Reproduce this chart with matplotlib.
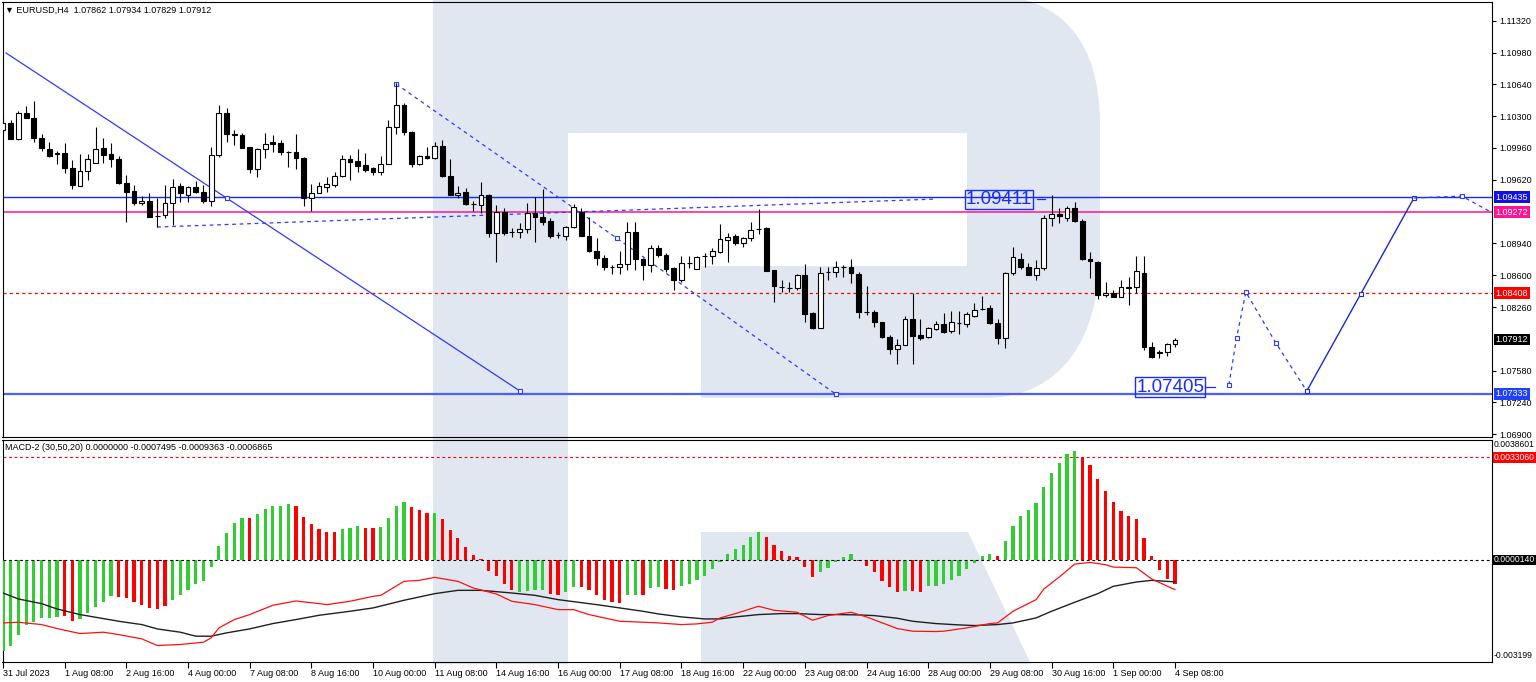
import matplotlib
matplotlib.use("Agg")
import matplotlib.pyplot as plt
import matplotlib.transforms as mtransforms
from matplotlib.path import Path
from matplotlib.patches import PathPatch, Polygon
import numpy as np

plt.rcParams['font.family'] = ['Liberation Sans', 'DejaVu Sans']

# EURUSD H4 candles, 31 Jul 2023 00:00 .. 4 Sep 2023 08:00
opens = [
    1.10152, 1.10227, 1.10055, 1.10333, 1.10280, 1.10066, 1.09949, 1.09895, 1.09906, 1.09746,
    1.09553, 1.09713, 1.09799, 1.09959, 1.09895, 1.09842, 1.09585, 1.09500, 1.09371, 1.09393,
    1.09232, 1.09243, 1.09371, 1.09553, 1.09457, 1.09542, 1.09489, 1.09393, 1.09884, 1.10333,
    1.10109, 1.10098, 1.09970, 1.09735, 1.09949, 1.10023, 1.10013, 1.09917, 1.09917, 1.09852,
    1.09425, 1.09478, 1.09542, 1.09564, 1.09660, 1.09842, 1.09820, 1.09778, 1.09746, 1.09703,
    1.09788, 1.10184, 1.10419, 1.10130, 1.09788, 1.09874, 1.09852, 1.09981, 1.09660, 1.09457,
    1.09489, 1.09361, 1.09350, 1.09457, 1.09051, 1.09275, 1.09062, 1.09062, 1.09094, 1.09264,
    1.09222, 1.09179, 1.09030, 1.09019, 1.09115, 1.09275, 1.09019, 1.08859, 1.08784, 1.08688,
    1.08688, 1.08720, 1.09062, 1.08773, 1.08709, 1.08890, 1.08816, 1.08677, 1.08548, 1.08730,
    1.08666, 1.08805, 1.08805, 1.08848, 1.08976, 1.09019, 1.08944, 1.08998, 1.09094, 1.09104,
    1.08655, 1.08473, 1.08462, 1.08462, 1.08602, 1.08196, 1.08035, 1.08634, 1.08634, 1.08688,
    1.08688, 1.08613, 1.08207, 1.08207, 1.08099, 1.07939, 1.07811, 1.07853, 1.08132, 1.07961,
    1.07939, 1.08025, 1.08078, 1.08003, 1.08089, 1.08078, 1.08164, 1.08238, 1.08249, 1.08089,
    1.07929, 1.08623, 1.08773, 1.08688, 1.08602, 1.08677, 1.09211, 1.09254, 1.09211, 1.09318,
    1.09179, 1.08773, 1.08741, 1.08388, 1.08409, 1.08367, 1.08462, 1.08473, 1.08623, 1.07832,
    1.07768, 1.07779, 1.07862]
highs = [
    1.10280, 1.10259, 1.10355, 1.10408, 1.10462, 1.10109, 1.10023, 1.09927, 1.10013, 1.09831,
    1.09895, 1.09895, 1.10184, 1.10066, 1.10013, 1.09874, 1.09671, 1.09564, 1.09446, 1.09478,
    1.09425, 1.09564, 1.09628, 1.09585, 1.09553, 1.09607, 1.09564, 1.09970, 1.10419, 1.10387,
    1.10152, 1.10120, 1.09970, 1.09959, 1.10120, 1.10098, 1.10045, 1.09927, 1.10109, 1.09863,
    1.09575, 1.09596, 1.09649, 1.09703, 1.09884, 1.09884, 1.09949, 1.09906, 1.09756, 1.09874,
    1.10259, 1.10654, 1.10441, 1.10141, 1.09884, 1.09970, 1.10023, 1.10045, 1.09842, 1.09553,
    1.09532, 1.09393, 1.09596, 1.09468, 1.09350, 1.09318, 1.09104, 1.09158, 1.09371, 1.09436,
    1.09521, 1.09211, 1.09062, 1.09126, 1.09361, 1.09318, 1.09222, 1.08998, 1.08816, 1.08709,
    1.08859, 1.09168, 1.09168, 1.08784, 1.08923, 1.08923, 1.08837, 1.08688, 1.08805, 1.08805,
    1.08805, 1.08837, 1.08890, 1.09147, 1.09051, 1.09040, 1.09008, 1.09168, 1.09307, 1.09115,
    1.08655, 1.08548, 1.08527, 1.08613, 1.08720, 1.08207, 1.08688, 1.08688, 1.08752, 1.08709,
    1.08773, 1.08634, 1.08484, 1.08228, 1.08099, 1.07961, 1.07918, 1.08164, 1.08409, 1.08132,
    1.08046, 1.08110, 1.08196, 1.08217, 1.08217, 1.08207, 1.08302, 1.08377, 1.08281, 1.08132,
    1.08634, 1.08901, 1.08837, 1.08730, 1.08762, 1.09243, 1.09457, 1.09318, 1.09339, 1.09382,
    1.09200, 1.08848, 1.08752, 1.08527, 1.08441, 1.08548, 1.08581, 1.08805, 1.08805, 1.07886,
    1.07800, 1.07875, 1.07934]
lows = [
    1.10120, 1.10055, 1.10045, 1.10280, 1.10023, 1.09927, 1.09863, 1.09788, 1.09692, 1.09521,
    1.09553, 1.09617, 1.09799, 1.09799, 1.09756, 1.09575, 1.09168, 1.09350, 1.09350, 1.09222,
    1.09115, 1.09211, 1.09136, 1.09382, 1.09382, 1.09478, 1.09371, 1.09339, 1.09863, 1.10023,
    1.09991, 1.09959, 1.09692, 1.09649, 1.09852, 1.09917, 1.09884, 1.09756, 1.09735, 1.09339,
    1.09286, 1.09478, 1.09489, 1.09542, 1.09649, 1.09617, 1.09703, 1.09703, 1.09671, 1.09671,
    1.09788, 1.10109, 1.10098, 1.09756, 1.09778, 1.09842, 1.09842, 1.09649, 1.09457, 1.09425,
    1.09350, 1.09286, 1.09264, 1.09008, 1.08741, 1.09030, 1.09008, 1.08998, 1.09051, 1.08955,
    1.09136, 1.08998, 1.08998, 1.08976, 1.09104, 1.09019, 1.08848, 1.08709, 1.08655, 1.08613,
    1.08613, 1.08655, 1.08655, 1.08548, 1.08634, 1.08794, 1.08634, 1.08441, 1.08527, 1.08677,
    1.08666, 1.08688, 1.08720, 1.08837, 1.08741, 1.08923, 1.08901, 1.08965, 1.09040, 1.08645,
    1.08313, 1.08419, 1.08419, 1.08441, 1.08099, 1.08025, 1.08035, 1.08548, 1.08581, 1.08581,
    1.08516, 1.08142, 1.08174, 1.08046, 1.07929, 1.07758, 1.07651, 1.07853, 1.07651, 1.07907,
    1.07929, 1.08014, 1.07982, 1.07982, 1.07971, 1.08046, 1.08153, 1.08228, 1.08078, 1.07864,
    1.07822, 1.08602, 1.08666, 1.08602, 1.08548, 1.08655, 1.09126, 1.09158, 1.09179, 1.09168,
    1.08762, 1.08570, 1.08345, 1.08367, 1.08367, 1.08367, 1.08281, 1.08409, 1.07800, 1.07715,
    1.07715, 1.07736, 1.07829]
closes = [
    1.10227, 1.10055, 1.10333, 1.10280, 1.10066, 1.09959, 1.09874, 1.09906, 1.09746, 1.09564,
    1.09713, 1.09842, 1.09949, 1.09884, 1.09842, 1.09585, 1.09489, 1.09371, 1.09393, 1.09222,
    1.09236, 1.09371, 1.09542, 1.09478, 1.09542, 1.09489, 1.09393, 1.09884, 1.10333, 1.10109,
    1.10098, 1.09959, 1.09735, 1.09949, 1.10002, 1.10002, 1.09917, 1.09915, 1.09852, 1.09425,
    1.09478, 1.09553, 1.09575, 1.09660, 1.09842, 1.09810, 1.09767, 1.09724, 1.09703, 1.09788,
    1.10184, 1.10419, 1.10130, 1.09788, 1.09874, 1.09852, 1.09981, 1.09660, 1.09457, 1.09478,
    1.09361, 1.09365, 1.09457, 1.09051, 1.09275, 1.09051, 1.09066, 1.09094, 1.09264, 1.09222,
    1.09168, 1.09019, 1.09034, 1.09115, 1.09329, 1.09019, 1.08859, 1.08784, 1.08688, 1.08692,
    1.08720, 1.09062, 1.08773, 1.08709, 1.08890, 1.08816, 1.08666, 1.08548, 1.08730, 1.08734,
    1.08794, 1.08809, 1.08859, 1.08987, 1.09008, 1.08944, 1.08998, 1.09083, 1.09090, 1.08645,
    1.08484, 1.08477, 1.08466, 1.08602, 1.08185, 1.08035, 1.08623, 1.08638, 1.08688, 1.08692,
    1.08623, 1.08207, 1.08211, 1.08099, 1.07939, 1.07811, 1.07853, 1.08132, 1.07950, 1.07929,
    1.08035, 1.08078, 1.07993, 1.08099, 1.08093, 1.08185, 1.08228, 1.08242, 1.08089, 1.07929,
    1.08623, 1.08794, 1.08688, 1.08602, 1.08677, 1.09211, 1.09254, 1.09232, 1.09318, 1.09179,
    1.08773, 1.08752, 1.08388, 1.08409, 1.08367, 1.08473, 1.08473, 1.08645, 1.07832, 1.07726,
    1.07779, 1.07864, 1.07912]

# MACD-2 histogram and its bar colours (g = green, r = red)
hist = [
    -0.00291, -0.00275, -0.00238, -0.00208, -0.00197, -0.00186, -0.00184, -0.00181, -0.00179, -0.00193,
    -0.00187, -0.00170, -0.00149, -0.00133, -0.00115, -0.00117, -0.00120, -0.00134, -0.00142, -0.00152,
    -0.00156, -0.00147, -0.00128, -0.00112, -0.00094, -0.00076, -0.00065, -0.00022, 0.00047, 0.00087,
    0.00121, 0.00137, 0.00137, 0.00149, 0.00165, 0.00176, 0.00176, 0.00180, 0.00175, 0.00138,
    0.00117, 0.00101, 0.00091, 0.00091, 0.00100, 0.00105, 0.00109, 0.00105, 0.00105, 0.00107,
    0.00137, 0.00176, 0.00186, 0.00170, 0.00162, 0.00153, 0.00151, 0.00132, 0.00098, 0.00071,
    0.00043, 0.00018, 0.00005, -0.00035, -0.00051, -0.00076, -0.00094, -0.00101, -0.00099, -0.00096,
    -0.00096, -0.00107, -0.00110, -0.00102, -0.00085, -0.00086, -0.00094, -0.00112, -0.00126, -0.00134,
    -0.00136, -0.00112, -0.00112, -0.00112, -0.00088, -0.00086, -0.00092, -0.00094, -0.00083, -0.00075,
    -0.00064, -0.00049, -0.00028, -0.00006, 0.00020, 0.00036, 0.00050, 0.00074, 0.00091, 0.00074,
    0.00050, 0.00029, 0.00015, 0.00011, -0.00021, -0.00053, -0.00037, -0.00025, -0.00006, 0.00011,
    0.00020, -0.00003, -0.00019, -0.00037, -0.00067, -0.00086, -0.00102, -0.00099, -0.00099, -0.00102,
    -0.00083, -0.00083, -0.00075, -0.00064, -0.00051, -0.00028, -0.00009, 0.00013, 0.00020, 0.00013,
    0.00061, 0.00109, 0.00143, 0.00162, 0.00183, 0.00234, 0.00279, 0.00311, 0.00340, 0.00352,
    0.00330, 0.00306, 0.00260, 0.00221, 0.00186, 0.00160, 0.00143, 0.00132, 0.00071, 0.00013,
    -0.00032, -0.00060, -0.00075]
hist_colors = ("gggggggg" "rr" "ggggg" "rrrrrrr" "gggggggggg" "r" "ggggg" "rrrrrr" "ggg" "rr"
               "gggg" "rrr" "g" "rrrrrrrrrr" "gggg" "rr" "gg" "rrrrrr" "gg" "r" "gg" "rr"
               "ggggggggggg" "rrrrrrr" "ggggg" "rrrrrr" "g" "rr" "ggggggggg" "r" "gggggggggg"
               "rrrrrrrrrrrrr")

black_idx = [0, 2, 5, 7, 10, 13, 15, 18, 20, 23, 25, 27, 29, 32, 35, 38, 41, 45, 48, 52, 56, 59, 62,
             66, 69, 72, 77, 80, 83, 85, 88, 91, 93, 95, 98, 101, 103, 106, 108, 111, 113, 116, 118,
             121, 124, 126, 129, 131, 134, 136, 139, 142, 144, 147, 149, 152]
black_val = [-0.001044, -0.001236, -0.001385, -0.001555, -0.001736, -0.001864, -0.001950, -0.002056,
             -0.002195, -0.002301, -0.002429, -0.002429, -0.002322, -0.002195, -0.002024, -0.001896,
             -0.001758, -0.001630, -0.001523, -0.001278, -0.001065, -0.000959, -0.000959, -0.001044,
             -0.001119, -0.001257, -0.001417, -0.001523, -0.001630, -0.001715, -0.001811, -0.001875,
             -0.001875, -0.001811, -0.001736, -0.001704, -0.001704, -0.001736, -0.001736, -0.001747,
             -0.001768, -0.001854, -0.001950, -0.002024, -0.002067, -0.002088, -0.002056, -0.002003,
             -0.001843, -0.001630, -0.001342, -0.001065, -0.000831, -0.000692, -0.000639, -0.000687]
red_idx = [0, 2, 5, 7, 10, 13, 15, 18, 20, 23, 26, 27, 28, 30, 32, 35, 38, 41, 42, 45, 48, 49, 52, 54,
           56, 59, 61, 64, 66, 69, 72, 74, 76, 80, 83, 85, 88, 90, 92, 93, 95, 98, 100, 103, 105, 107,
           110, 112, 116, 118, 121, 122, 125, 128, 129, 131, 134, 135, 137, 139, 141, 143, 144, 147,
           149, 152]
red_val = [-0.002003, -0.001981, -0.002056, -0.002184, -0.002344, -0.002301, -0.002376, -0.002514,
           -0.002727, -0.002695, -0.002621, -0.002482, -0.002163, -0.001896, -0.001736, -0.001438,
           -0.001300, -0.001385, -0.001417, -0.001310, -0.001151, -0.001119, -0.000671, -0.000639,
           -0.000543, -0.000671, -0.000884, -0.001076, -0.001310, -0.001417, -0.001577, -0.001577,
           -0.001736, -0.001950, -0.001981, -0.002003, -0.002056, -0.002035, -0.001981, -0.001843,
           -0.001704, -0.001470, -0.001598, -0.001662, -0.001918, -0.001768, -0.001662, -0.001811,
           -0.002184, -0.002269, -0.002280, -0.002269, -0.002163, -0.002024, -0.002003, -0.001630,
           -0.001257, -0.000916, -0.000533, -0.000117, -0.000064, -0.000138, -0.000213, -0.000234,
           -0.000597, -0.000936]

date_pos = list(range(0, 153, 8))
date_labels = ["31 Jul 2023", "1 Aug 08:00", "2 Aug 16:00", "4 Aug 00:00", "7 Aug 08:00",
               "8 Aug 16:00", "10 Aug 00:00", "11 Aug 08:00", "14 Aug 16:00", "16 Aug 00:00",
               "17 Aug 08:00", "18 Aug 16:00", "22 Aug 00:00", "23 Aug 08:00", "24 Aug 16:00",
               "28 Aug 00:00", "29 Aug 08:00", "30 Aug 16:00", "1 Sep 00:00", "4 Sep 08:00"]
price_ticks = [1.11320, 1.10980, 1.10640, 1.10300, 1.09960, 1.09620, 1.08940, 1.08600,
               1.08260, 1.07580, 1.07240, 1.06900]

# horizontal levels and drawn objects (bar index, price)
lvl_res, lvl_pink, lvl_pivot, lvl_sup, last_price = 1.09435, 1.09272, 1.08408, 1.07333, 1.07912
trend_x, trend_y = [0.4, 67.1], [1.10975, 1.07360]
trend_mx, trend_my = [29.05, 67.1], [1.09430, 1.07360]
fall_x, fall_y = [51.0, 79.6, 108.0], [1.10643, 1.08997, 1.07330]
flat_x, flat_y = [20.0, 120.9], [1.09115, 1.09414]
fc1_x, fc1_y = [159.0, 160.0, 161.2, 165.1, 169.1], [1.07427, 1.07929, 1.08420, 1.07875, 1.07362]
fc2_x, fc2_y = [169.1, 176.1, 183.0], [1.07362, 1.08399, 1.09425]
fc3_x, fc3_y = [183.0, 189.2, 193.0], [1.09425, 1.09446, 1.09275]
macd_lvl_hi, macd_lvl_zero = 0.0033060, 0.0000140

W, H = 1536, 682
fig = plt.figure(figsize=(W / 100, H / 100), dpi=100)


def rect(x0, y0, x1, y1):
    return [x0 / W, 1 - y1 / H, (x1 - x0) / W, (y1 - y0) / H]


# watermark logo behind both panels
bg = fig.add_axes([0, 0, 1, 1], zorder=0)
bg.set_xlim(0, W)
bg.set_ylim(H, 0)
bg.axis('off')
wm = '#e0e7f0'
verts = [(433, -5), (985, -5), (1065, -5), (1100, 45), (1100, 125), (1100, 250),
         (1100, 340), (1060, 398), (985, 398), (701, 398), (701, 266), (967, 266),
         (967, 133), (568, 133), (568, 664), (433, 664), (433, -5)]
codes = [Path.MOVETO, Path.LINETO, Path.CURVE4, Path.CURVE4, Path.CURVE4, Path.LINETO,
         Path.CURVE4, Path.CURVE4, Path.CURVE4, Path.LINETO, Path.LINETO, Path.LINETO,
         Path.LINETO, Path.LINETO, Path.LINETO, Path.LINETO, Path.CLOSEPOLY]
bg.add_patch(PathPatch(Path(verts, codes), fc=wm, ec='none'))
bg.add_patch(Polygon([(701, 532), (968, 532), (1031, 664), (701, 664)], fc=wm, ec='none'))

ax = fig.add_axes(rect(2.5, 2, 1492, 437), zorder=1)
mx = fig.add_axes(rect(2.5, 440, 1492, 662), zorder=1, sharex=ax)
for a in (ax, mx):
    a.set_facecolor('none')
    for s in a.spines.values():
        s.set_linewidth(0.8)
        s.set_color('black')

ax.set_xlim(-0.065, 193.13)
ax.set_ylim(1.06871, 1.11520)
mx.set_ylim(-0.003256, 0.0038601)

# candles
idx = np.arange(len(closes))
o, h, l, c = map(np.array, (opens, highs, lows, closes))
up = c >= o
lo = np.minimum(o, c)
bh = np.abs(c - o)
ax.vlines(idx, l, h, color='black', lw=0.8, zorder=3)
ax.bar(idx[up], bh[up], bottom=lo[up], width=0.62, color='white', edgecolor='black', lw=0.8, zorder=4)
ax.bar(idx[~up], bh[~up], bottom=lo[~up], width=0.62, color='black', edgecolor='black', lw=0.8, zorder=4)

# levels
dot = (0, (2.5, 2.5))
ax.axhline(lvl_res, color='#1428ff', lw=1.0, zorder=2)
ax.axhline(lvl_pink, color='#ff1493', lw=1.1, zorder=2)
ax.axhline(lvl_pivot, color='#ff0000', lw=0.9, ls=dot, zorder=2)
ax.axhline(lvl_sup, color='#4a60ff', lw=1.6, zorder=2)

blue = '#2a3cff'
ax.plot(trend_x, trend_y, color=blue, lw=0.9, zorder=2)
ax.plot(trend_mx, trend_my, ls='none', marker='s', ms=3.5, mfc='white', mec=blue, mew=0.8, zorder=5)
ax.plot(fall_x, fall_y, color=blue, lw=0.9, ls=(0, (3, 3)), marker='s', ms=3.5, mfc='white',
        mec=blue, mew=0.8, zorder=2)
ax.plot(flat_x, flat_y, color=blue, lw=0.9, ls=(0, (3, 3)), zorder=2)
ax.plot(fc1_x, fc1_y, color=blue, lw=0.9, ls=(0, (3, 3)), marker='s', ms=3.5, mfc='white',
        mec=blue, mew=0.8, zorder=5)
ax.plot(fc2_x, fc2_y, color='#1a2ad0', lw=1.0, marker='s', ms=3.5, mfc='white',
        mec='#1a2ad0', mew=0.8, zorder=5)
ax.plot(fc3_x, fc3_y, color=blue, lw=0.9, ls=(0, (3, 3)), zorder=5)
ax.plot(fc3_x[1:2], fc3_y[1:2], ls='none', marker='s', ms=3.5, mfc='white', mec=blue, mew=0.8, zorder=5)

# big price labels
for x0, x1, xt, val in [(134.1, 135.2, 124.9, 1.09411), (156.0, 157.2, 147.0, 1.07405)]:
    ax.plot([x0, x1], [val, val], color='#1a2cff', lw=0.9, zorder=5)
    ax.text(xt, val, f"{val:.5f}", color='#1a2cff', fontsize=13.5, va='center', ha='left', zorder=6,
            bbox=dict(boxstyle='square,pad=0.06', fc='none', ec='#1a2cff', lw=1.0))

# right price axis
ax.yaxis.tick_right()
ax.set_yticks(price_ticks)
ax.set_yticklabels([f"{v:.5f}" for v in price_ticks])
ax.tick_params(axis='y', length=3, width=0.8, pad=2, labelsize=6.5, direction='out')
ax.tick_params(axis='x', bottom=False, labelbottom=False)

tr_main = mtransforms.blended_transform_factory(ax.transAxes, ax.transData)
for val, col in [(lvl_res, '#1010e8'), (lvl_pink, '#ff1493'), (lvl_pivot, '#ff0000'),
                 (last_price, '#000000'), (lvl_sup, '#2040ff')]:
    ax.text(1.0025, val, f"{val:.5f}", transform=tr_main, fontsize=6.5, color='white',
            va='center', ha='left', clip_on=False,
            bbox=dict(boxstyle='square,pad=0.15', fc=col, ec='none'))

# MACD panel
bar_cols = ['#32cd32' if ch == 'g' else '#ff0000' for ch in hist_colors]
mx.bar(idx, hist, width=0.42, color=bar_cols, zorder=3)
mx.axhline(macd_lvl_hi, color='#ff0000', lw=0.8, ls=dot, zorder=2)
mx.axhline(macd_lvl_zero, color='#000000', lw=0.8, ls=dot, zorder=4)
mx.plot(black_idx, black_val, color='#202020', lw=1.0, zorder=5)
mx.plot(red_idx, red_val, color='#ff1010', lw=0.9, zorder=5)
mx.tick_params(axis='y', left=False, labelleft=False, right=False)

tr_macd = mtransforms.blended_transform_factory(mx.transAxes, mx.transData)
mx.text(1.0012, 0.0038601, "0.0038601", transform=tr_macd, fontsize=6.2, va='top', ha='left', clip_on=False)
mx.text(1.0012, -0.003199, "-0.003199", transform=tr_macd, fontsize=6.2, va='bottom', ha='left', clip_on=False)
mx.text(1.0012, macd_lvl_hi, "0.0033060", transform=tr_macd, fontsize=6.2, color='white', va='center',
        ha='left', clip_on=False, bbox=dict(boxstyle='square,pad=0.1', fc='#ff0000', ec='none'))
mx.text(1.0012, macd_lvl_zero, "0.0000140", transform=tr_macd, fontsize=6.2, color='white', va='center',
        ha='left', clip_on=False, bbox=dict(boxstyle='square,pad=0.1', fc='#000000', ec='none'))

mx.set_xticks(date_pos)
mx.set_xticklabels(date_labels, ha='left')
mx.tick_params(axis='x', length=4, width=0.8, pad=1, labelsize=6.5, direction='out')

fig.text(5 / W, 1 - 10 / H, "\u25bc EURUSD,H4  1.07862 1.07934 1.07829 1.07912", fontsize=6.5, va='center')
fig.text(5 / W, 1 - 448 / H, "MACD-2 (30,50,20) 0.0000000 -0.0007495 -0.0009363 -0.0006865",
         fontsize=6.5, va='center')

fig.savefig("out.png", dpi=100, facecolor='white')
